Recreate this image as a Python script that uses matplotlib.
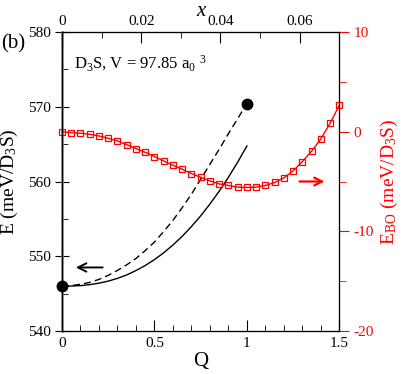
import numpy as np
import matplotlib
matplotlib.use("Agg")
import matplotlib.pyplot as plt
from matplotlib.ticker import MultipleLocator

plt.rcParams['font.family'] = ['Liberation Serif', 'DejaVu Serif']
plt.rcParams['mathtext.fontset'] = 'custom'
plt.rcParams['mathtext.rm'] = 'Liberation Serif'
plt.rcParams['mathtext.it'] = 'Liberation Serif:italic'
plt.rcParams['axes.unicode_minus'] = False

# black curves (left axis), Q = 0 ... 1 step 0.05
q_black = [0.0, 0.05, 0.1, 0.15, 0.2, 0.25, 0.3, 0.35, 0.4, 0.45, 0.5,
           0.55, 0.6, 0.65, 0.7, 0.75, 0.8, 0.85, 0.9, 0.95, 1.0]
e_solid = [546.0, 546.01, 546.07, 546.2, 546.4, 546.67, 547.04, 547.5, 548.08, 548.76, 549.55,
           550.46, 551.5, 552.66, 553.97, 555.4, 556.98, 558.69, 560.56, 562.58, 564.75]
e_dashed = [546.0, 546.07, 546.25, 546.5, 546.9, 547.45, 548.1, 548.85, 549.7, 550.75, 551.9,
            553.3, 554.8, 556.5, 558.3, 560.3, 562.3, 564.3, 566.4, 568.4, 570.4]
q_dots = [0.0, 1.0]
e_dots = [546.0, 570.4]

# red curve (right axis), Q = 0 ... 1.5 step 0.05
q_red = [0.0, 0.05, 0.1, 0.15, 0.2, 0.25, 0.3, 0.35, 0.4, 0.45, 0.5,
         0.55, 0.6, 0.65, 0.7, 0.75, 0.8, 0.85, 0.9, 0.95, 1.0,
         1.05, 1.1, 1.15, 1.2, 1.25, 1.3, 1.35, 1.4, 1.45, 1.5]
e_bo = [0.0, -0.1, -0.16, -0.26, -0.43, -0.67, -0.93, -1.3, -1.7, -2.07, -2.5,
        -2.94, -3.37, -3.77, -4.2, -4.57, -4.94, -5.24, -5.4, -5.57, -5.6,
        -5.57, -5.4, -5.1, -4.64, -3.94, -3.0, -1.96, -0.73, 0.84, 2.65]

fig = plt.figure(figsize=(4.07, 3.74), dpi=100)
ax = fig.add_axes([0.1523, 0.115, 0.6814, 0.7994])
ax2 = ax.twinx()
ax3 = ax.twiny()

# left axis
ax.plot(q_black, e_solid, color='black', lw=1.0)
ax.plot(q_black, e_dashed, color='black', lw=1.0, ls=(0, (5, 3)))
ax.plot(q_dots, e_dots, 'o', color='black', ms=7.5, ls='none', clip_on=False, zorder=5)
ax.set_xlim(0, 1.5)
ax.set_ylim(540, 580)
ax.xaxis.set_minor_locator(MultipleLocator(0.1))
ax.yaxis.set_major_locator(MultipleLocator(10))
ax.yaxis.set_minor_locator(MultipleLocator(5))
ax.set_xticks([0, 0.5, 1, 1.5])
ax.set_xticklabels(['0', '0.5', '1', '1.5'])
ax.tick_params(axis='x', which='major', direction='in', length=8, labelsize=11, pad=4)
ax.tick_params(axis='x', which='minor', direction='in', length=4)
ax.tick_params(axis='y', which='major', direction='inout', length=10, labelsize=11, pad=3)
ax.tick_params(axis='y', which='minor', direction='in', length=4)
ax.spines['left'].set_color('grey')
ax.spines['left'].set_linewidth(1.8)
ax.set_xlabel('Q', fontsize=15, labelpad=2)
ax.set_ylabel('E (meV/D$_3$S)', fontsize=14, labelpad=6)

ax.annotate('', xy=(0.06, 548.5), xytext=(0.235, 548.5),
            arrowprops=dict(arrowstyle='->', color='black', lw=1.4, mutation_scale=15))

# right axis
ax2.plot(q_red, e_bo, color='red', lw=1.0, marker='s', ms=5, mfc='none', mec='red', mew=0.9,
         clip_on=False)
ax2.set_ylim(-20, 10)
ax2.yaxis.set_major_locator(MultipleLocator(10))
ax2.yaxis.set_minor_locator(MultipleLocator(5))
ax2.tick_params(axis='y', which='major', direction='out', length=7, colors='red', labelsize=11, pad=3)
ax2.tick_params(axis='y', which='minor', direction='out', length=5, colors='red')
ax2.set_ylabel(r'E$_{\rm BO}$ (meV/D$_3$S)', fontsize=14, color='red', labelpad=4)
ax2.annotate('', xy=(1.435, -5), xytext=(1.27, -5),
             arrowprops=dict(arrowstyle='->', color='red', lw=1.6, mutation_scale=14))

# top axis
ax3.set_xlim(0, 0.07)
ax3.xaxis.set_minor_locator(MultipleLocator(0.01))
ax3.set_xticks([0, 0.02, 0.04, 0.06])
ax3.set_xticklabels(['0', '0.02', '0.04', '0.06'])
ax3.tick_params(axis='x', which='major', direction='in', length=8, labelsize=11, pad=3)
ax3.tick_params(axis='x', which='minor', direction='in', length=4)
ax3.set_xlabel('x', fontsize=15, style='italic', labelpad=-1)

ax.text(0.045, 0.93, 'D$_3$S, V = 97.85 a$_0$ $^3$', transform=ax.transAxes,
        fontsize=12, ha='left', va='top')
fig.text(0.003, 0.883, '(b)', fontsize=15, ha='left', va='center')

fig.savefig('out.png', dpi=100)
